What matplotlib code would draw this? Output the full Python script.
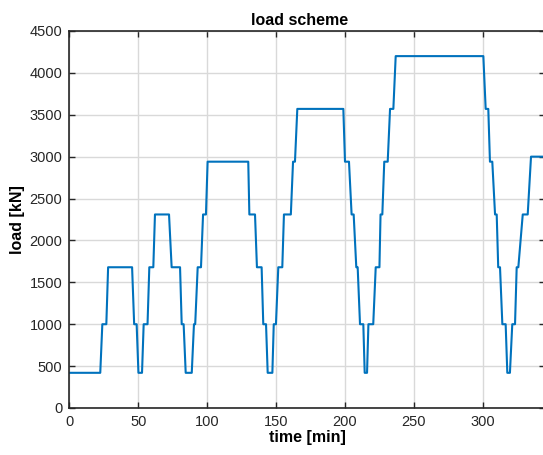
import matplotlib
matplotlib.use("Agg")
import matplotlib.pyplot as plt

plt.rcParams['font.family'] = ['Liberation Sans', 'DejaVu Sans']

# load history: corner points of the stepped loading scheme
time_min = [0, 22.4, 23.9, 26.8, 28.1, 45.5, 47.0, 48.8, 50.1, 52.7,
            53.9, 56.7, 58.0, 60.9, 62.1, 72.3, 74.2, 80.3, 81.5, 82.9,
            84.4, 88.8, 90.4, 91.3, 93.1, 95.5, 97.0, 99.1, 100.3, 129.8,
            130.6, 134.7, 136.1, 139.5, 140.7, 142.7, 143.9, 147.3, 148.3, 149.9,
            151.6, 154.5, 155.7, 160.7, 162.3, 163.7, 165.4, 198.8, 200.0, 202.9,
            204.8, 206.3, 208.2, 209.2, 210.9, 213.3, 214.3, 216.0, 217.0, 220.5,
            222.3, 225.0, 225.8, 227.1, 228.5, 231.0, 232.7, 235.1, 236.8, 300.4,
            302.1, 304.0, 305.2, 306.9, 308.9, 310.1, 311.2, 312.5, 314.2, 316.6,
            317.8, 319.7, 321.4, 323.4, 324.6, 325.8, 329.0, 332.6, 335.0, 345.0]
load_kn = [420, 420, 1000, 1000, 1680, 1680, 1000, 1000, 420, 420,
           1000, 1000, 1680, 1680, 2310, 2310, 1680, 1680, 1000, 1000,
           420, 420, 1000, 1000, 1680, 1680, 2310, 2310, 2940, 2940,
           2310, 2310, 1680, 1680, 1000, 1000, 420, 420, 1000, 1000,
           1680, 1680, 2310, 2310, 2940, 2940, 3570, 3570, 2940, 2940,
           2310, 2310, 1680, 1680, 1000, 1000, 420, 420, 1000, 1000,
           1680, 1680, 2310, 2310, 2940, 2940, 3570, 3570, 4200, 4200,
           3570, 3570, 2940, 2940, 2310, 2310, 1680, 1680, 1000, 1000,
           420, 420, 1000, 1000, 1680, 1680, 2310, 2310, 3000, 3000]

x_ticks = [0, 50, 100, 150, 200, 250, 300]
y_ticks = [0, 500, 1000, 1500, 2000, 2500, 3000, 3500, 4000, 4500]

fig = plt.figure(figsize=(5.43, 4.55), dpi=100)
ax = fig.add_axes([0.1278, 0.1033, 0.8755, 0.8286])

ax.plot(time_min, load_kn, color='#0072BD', linewidth=1.5)

ax.set_xlim(0, 345)
ax.set_ylim(0, 4500)
ax.set_xticks(x_ticks)
ax.set_yticks(y_ticks)

ax.grid(True, color='#d9d9d9', linewidth=1.0)
ax.set_axisbelow(True)
for s in ax.spines.values():
    s.set_color('#262626')
    s.set_linewidth(1.2)
ax.tick_params(direction='in', length=4, width=1.0, colors='#262626',
               labelsize=10.5, top=True, right=True, pad=5)

ax.set_title('load scheme', fontsize=11.5, fontweight='bold', pad=4, x=0.485)
ax.set_xlabel('time [min]', fontsize=11.5, fontweight='bold', labelpad=1)
ax.set_ylabel('load [kN]', fontsize=11.5, fontweight='bold', labelpad=3)

fig.savefig('out.png', dpi=100)
